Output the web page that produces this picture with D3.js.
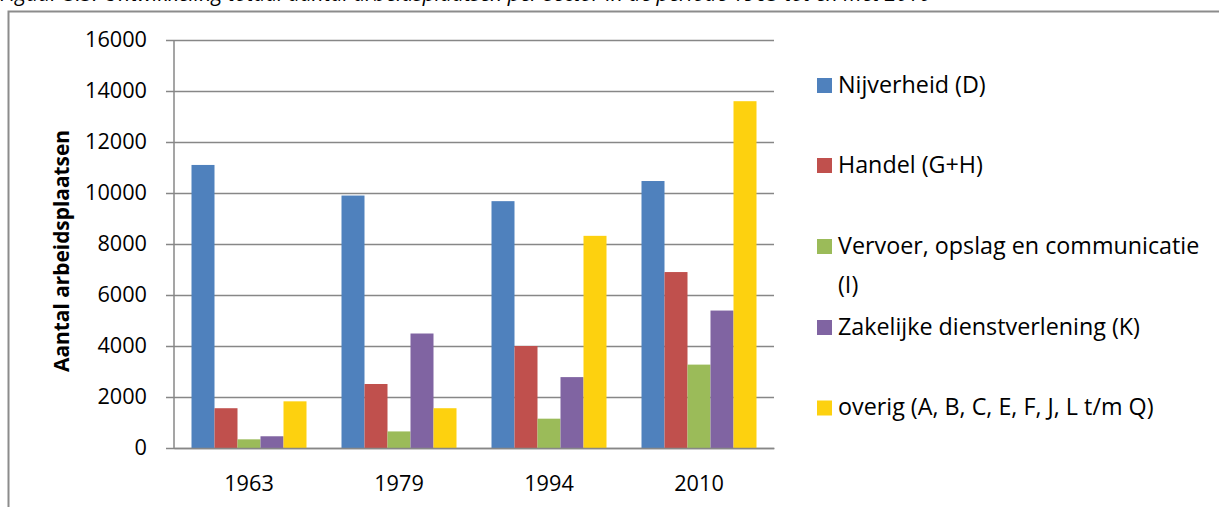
<!DOCTYPE html>
<html>
<head>
<meta charset="utf-8">
<script src="https://cdn.jsdelivr.net/npm/d3@7"></script>
<style>
  body { margin: 0; background: #fff; }
  text { font-family: "Open Sans", Lato, sans-serif; fill: #000; }
</style>
</head>
<body>
<div id="chart-area"></div>
<script>
// data
var years = ["1963", "1979", "1994", "2010"];
var sectors = ["Nijverheid (D)", "Handel (G+H)", "Vervoer, opslag en communicatie (I)",
               "Zakelijke dienstverlening (K)", "overig (A, B, C, E, F, J, L t/m Q)"];
var nijverheid = [11100, 9900, 9680, 10470];
var handel     = [1560, 2510, 4000, 6900];
var vervoer    = [340, 650, 1150, 3270];
var zakelijk   = [460, 4490, 2780, 5390];
var overig     = [1830, 1560, 8320, 13600];
var yTicks = [0, 2000, 4000, 6000, 8000, 10000, 12000, 14000, 16000];
var colors = ["#4F81BD", "#C0504D", "#9BBB59", "#8064A2", "#FDD10F"];

var series = [nijverheid, handel, vervoer, zakelijk, overig];

var W = 1219, H = 507;
var margin = {left: 174, top: 40};
var width = 600, height = 408;

// scale a font size so a text comes out at the wanted width
function fitSize(sel, target){
    var len = sel.node().getComputedTextLength();
    var fs = parseFloat(sel.attr("font-size"));
    return fs * target / len;
}

var svg = d3.select("#chart-area")
    .append("svg")
        .attr("width", W)
        .attr("height", H);

// caption, mostly cut off at the top (as in the source)
svg.append("text")
    .attr("x", 0)
    .attr("y", 1)
    .attr("font-size", "21px")
    .attr("font-style", "italic")
    .text("Figuur 3.3: Ontwikkeling totaal aantal arbeidsplaatsen per sector in de periode 1963 tot en met 2010");

// outer frame
svg.append("path")
    .attr("d", "M8.5," + H + " V11.5 H" + W)
    .attr("fill", "none")
    .attr("stroke", "#8c8c8c")
    .attr("stroke-width", 2);

var g = svg.append("g")
    .attr("transform", "translate(" + margin.left + ", " + margin.top + ")");

var x0 = d3.scaleBand()
    .domain(years)
    .range([0, width]);

var x1 = d3.scaleBand()
    .domain(d3.range(sectors.length))
    .range([17.5, x0.bandwidth() - 17.5]);

var y = d3.scaleLinear()
    .domain([0, 16000])
    .range([height, 0]);

// gridlines + y axis
var yAxisCall = d3.axisLeft(y)
    .tickValues(yTicks)
    .tickSize(-width)
    .tickPadding(27)
    .tickFormat(d3.format("d"));

var yAxisGroup = g.append("g")
    .attr("class", "y axis")
    .call(yAxisCall);
yAxisGroup.select(".domain").remove();
yAxisGroup.selectAll(".tick line")
    .attr("x1", -8)
    .attr("stroke", "#878787")
    .attr("stroke-width", 1.5);
var yLabels = yAxisGroup.selectAll(".tick text")
    .attr("font-size", "20px")
    .attr("font-family", "'Open Sans', sans-serif")
    .attr("fill", "#000");
var tickFs = fitSize(yAxisGroup.selectAll(".tick text").filter(function(d){ return d === 16000; }), 62);
yLabels.attr("font-size", tickFs + "px");

// bars
var groups = g.selectAll("g.year")
    .data(years)
    .enter()
    .append("g")
        .attr("class", "year")
        .attr("transform", function(d){
            return "translate(" + x0(d) + ",0)";
        });

groups.selectAll("rect")
    .data(function(d, i){
        return series.map(function(s, k){ return {k: k, v: s[i]}; });
    })
    .enter()
    .append("rect")
        .attr("x", function(d){ return x1(d.k); })
        .attr("y", function(d){ return y(d.v); })
        .attr("width", x1.bandwidth())
        .attr("height", function(d){ return height - y(d.v); })
        .attr("fill", function(d){ return colors[d.k]; });

// axis lines
g.append("line")
    .attr("x1", 0).attr("x2", 0)
    .attr("y1", 0).attr("y2", height)
    .attr("stroke", "#878787")
    .attr("stroke-width", 1.5);

var xAxisCall = d3.axisBottom(x0).tickSize(0).tickPadding(28);
var xAxisGroup = g.append("g")
    .attr("class", "x axis")
    .attr("transform", "translate(0," + height + ")")
    .call(xAxisCall);
xAxisGroup.select(".domain")
    .attr("stroke", "#878787")
    .attr("stroke-width", 1.5);
xAxisGroup.selectAll("text")
    .attr("font-size", tickFs + "px")
    .attr("font-family", "'Open Sans', sans-serif")
    .attr("fill", "#000");

// Y label
var ylabel = svg.append("text")
    .attr("transform", "translate(69," + 251 + ") rotate(-90)")
    .attr("text-anchor", "middle")
    .attr("font-size", "20px")
    .attr("font-weight", "bold")
    .text("Aantal arbeidsplaatsen");
ylabel.attr("font-size", fitSize(ylabel, 242) + "px");

// legend
var legendY = [85.5, 165.5, 246.5, 327.5, 408];
var legendLines = [["Nijverheid (D)"], ["Handel (G+H)"], ["Vervoer, opslag en communicatie", "(I)"],
                   ["Zakelijke dienstverlening (K)"], ["overig (A, B, C, E, F, J, L t/m Q)"]];
var legend = svg.append("g").attr("class", "legend");
sectors.forEach(function(s, i){
    legend.append("rect")
        .attr("x", 817)
        .attr("y", legendY[i] - 7.5)
        .attr("width", 15)
        .attr("height", 15)
        .attr("fill", colors[i]);
    legendLines[i].forEach(function(line, j){
        legend.append("text")
            .attr("x", 838)
            .attr("y", legendY[i] + 7 + j * 39)
            .attr("font-size", "20px")
            .text(line);
    });
});
var legendFs = fitSize(legend.selectAll("text").filter(function(){
    return this.textContent === "Zakelijke dienstverlening (K)";
}), 302);
legend.selectAll("text").attr("font-size", legendFs + "px");
</script>
</body>
</html>
